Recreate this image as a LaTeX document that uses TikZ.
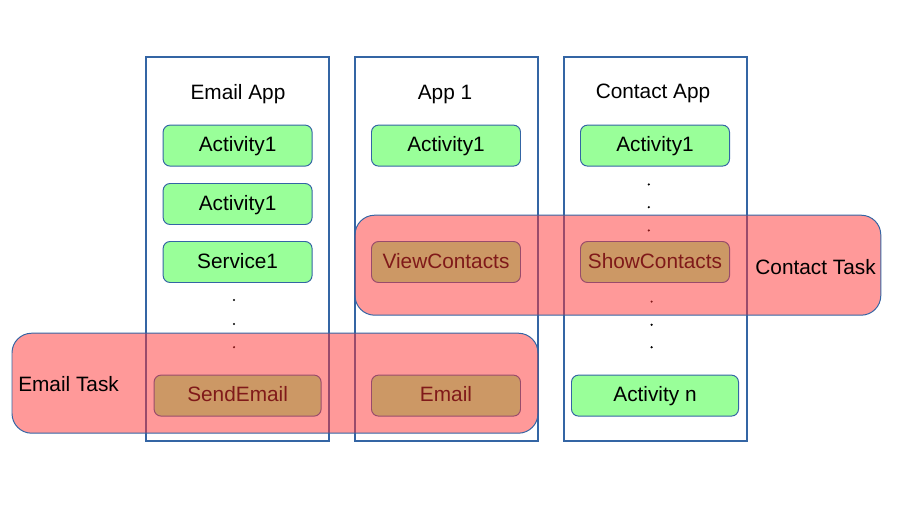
\documentclass[tikz,border=0pt]{standalone}
\usepackage{fontspec}
\setmainfont{Liberation Sans}
\definecolor{appblue}{RGB}{52,101,164}
\definecolor{actgreen}{RGB}{153,255,153}
\definecolor{taskred}{RGB}{255,51,51}
\begin{document}
\begin{tikzpicture}[
        font=\fontsize{14.8}{17}\selectfont,
        appbox/.style={draw=appblue,line width=1pt},
        act/.style={draw=appblue,fill=actgreen,rounded corners=5pt,line width=0.7pt,
            minimum width=3.725cm,minimum height=1.025cm,inner sep=0pt,text depth=0.4ex},
        wideact/.style={act,minimum width=4.175cm},
        taskbox/.style={draw=appblue,line width=0.7pt,fill=taskred,fill opacity=0.5,rounded corners=14pt}
    ]
                \useasboundingbox (0,0) rectangle (22.425,-13.225);
                % the three apps
                \draw[appbox] (3.65,-1.425) rectangle (8.225,-11.025);
                \draw[appbox] (8.875,-1.425) rectangle (13.45,-11.025);
                \draw[appbox] (14.1,-1.425) rectangle (18.675,-11.025);
                \node (emailtitle) at (5.95,-2.36) {Email App};
                \node (apptitle) at (11.125,-2.36) {App 1};
                \node (contacttitle) at (16.325,-2.34) {Contact App};
                % Email App
                \node[act] (eact1) at (5.94,-3.64) {Activity1};
                \node[act] (eact2) at (5.94,-5.1) {Activity1};
                \node[act] (eserv) at (5.94,-6.55) {Service1};
                \node[wideact] (esend) at (5.94,-9.89) {SendEmail};
                \foreach \y in {-7.5,-8.1,-8.68}
                {
                    \fill (5.85,\y) circle (0.03);
                }
                % App 1
                \node[act] (aact1) at (11.15,-3.64) {Activity1};
                \node[act] (aview) at (11.15,-6.55) {ViewContacts};
                \node[act] (aemail) at (11.15,-9.89) {Email};
                % Contact App
                \node[act] (cact1) at (16.375,-3.64) {Activity1};
                \node[act] (cshow) at (16.375,-6.55) {ShowContacts};
                \node[wideact] (cactn) at (16.375,-9.89) {Activity n};
                \foreach \y in {-4.61,-5.18,-5.76}
                {
                    \fill (16.22,\y) circle (0.03);
                }
                \foreach \y in {-7.54,-8.12,-8.68}
                {
                    \fill (16.29,\y) circle (0.03);
                }
                % the two tasks
                \draw[taskbox] (0.3,-8.33) rectangle (13.45,-10.83);
                \draw[taskbox] (8.875,-5.38) rectangle (22.02,-7.88);
                \node[anchor=west,inner sep=0pt] (emailtask) at (0.45,-9.6) {Email Task};
                \node (contacttask) at (20.39,-6.68) {Contact Task};
            \end{tikzpicture}
\end{document}
